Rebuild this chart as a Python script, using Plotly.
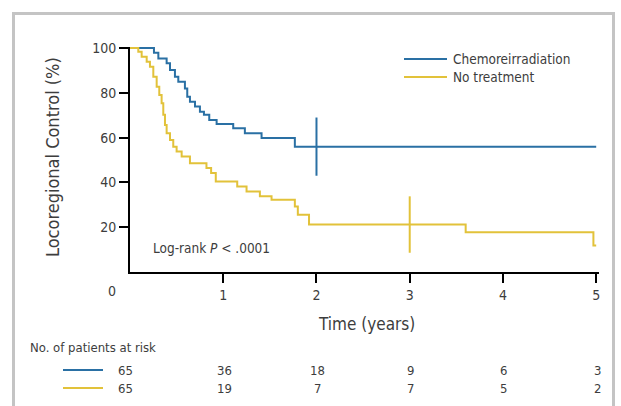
import plotly.graph_objects as go

# ---- data ----
series_names = ["Chemoreirradiation", "No treatment"]
blue_t = [0, 0.257, 0.304, 0.393, 0.429, 0.482, 0.518, 0.589, 0.614, 0.643, 0.697,
          0.750, 0.793, 0.850, 0.929, 1.107, 1.232, 1.411, 1.768, 5.0]
blue_v = [100, 97.9, 95.4, 93.2, 90.2, 87.2, 85.0, 82.0, 78.3, 76.1, 73.9,
          71.6, 70.2, 67.9, 66.1, 64.2, 62.0, 59.8, 56.0, 56.0]
yellow_t = [0, 0.089, 0.125, 0.179, 0.214, 0.25, 0.286, 0.314, 0.339, 0.357, 0.375,
            0.393, 0.429, 0.464, 0.5, 0.554, 0.643, 0.82, 0.87, 0.92, 1.15, 1.25,
            1.393, 1.518, 1.768, 1.80, 1.92, 3.6, 4.97, 5.0]
yellow_v = [100, 98.4, 96.1, 93.9, 91.7, 87.2, 82.8, 79.1, 75.4, 70.2, 65.7,
            62.0, 59.0, 56.0, 53.8, 51.6, 48.6, 46.4, 44.2, 40.4, 38.2, 36.0,
            33.8, 32.3, 29.3, 25.6, 21.2, 17.7, 11.8, 11.8]
censor_t = [2, 3]
censor_v = [56.0, 21.2]
censor_half = [13.0, 12.6]
x_ticks = [1, 2, 3, 4, 5]
y_ticks = [20, 40, 60, 80, 100]
risk_times = [0, 1, 2, 3, 4, 5]
risk_blue = [65, 36, 18, 9, 6, 3]
risk_yellow = [65, 19, 7, 7, 5, 2]
pvalue_text = "Log-rank <i>P</i> &lt; .0001"

# ---- style ----
W, H = 621, 406
L, R, T, B = 130, 22, 47, 134
PW, PH = W - L - R, H - T - B
BLUE = "#2a70a4"
YELLOW = "#e2c23a"
TXT = "#3d3d3d"
FONT = "DejaVu Sans Condensed, DejaVu Sans"


def px(x):
    return (x - L) / PW


def py(y):
    return (H - B - y) / PH


fig = go.Figure()
fig.add_trace(go.Scatter(x=blue_t, y=blue_v, mode="lines", line=dict(color=BLUE, width=2, shape="hv"),
                         name=series_names[0], showlegend=False))
fig.add_trace(go.Scatter(x=yellow_t, y=yellow_v, mode="lines", line=dict(color=YELLOW, width=2, shape="hv"),
                         name=series_names[1], showlegend=False))
for ct, cv, ch, col in zip(censor_t, censor_v, censor_half, [BLUE, YELLOW]):
    fig.add_trace(go.Scatter(x=[ct, ct], y=[cv - ch, cv + ch], mode="lines",
                             line=dict(color=col, width=2), showlegend=False, hoverinfo="skip"))

shapes = []
# outer frame
shapes.append(dict(type="rect", xref="paper", yref="paper", x0=px(13.5), x1=px(613.5), y0=py(430), y1=py(13.5),
                   line=dict(color="#c4c4c4", width=3), layer="below"))
# legend samples
for yy, col in [(59, BLUE), (77, YELLOW)]:
    shapes.append(dict(type="line", xref="paper", yref="paper", x0=px(404), x1=px(447), y0=py(yy), y1=py(yy),
                       line=dict(color=col, width=2)))
# risk-table samples
for yy, col in [(370, BLUE), (388, YELLOW)]:
    shapes.append(dict(type="line", xref="paper", yref="paper", x0=px(63), x1=px(103), y0=py(yy), y1=py(yy),
                       line=dict(color=col, width=2)))

ann = []
ann.append(dict(text=series_names[0], x=px(451), y=py(59), xref="paper", yref="paper", xanchor="left",
                yanchor="middle", showarrow=False, font=dict(family=FONT, size=13.5, color=TXT)))
ann.append(dict(text=series_names[1], x=px(451), y=py(77), xref="paper", yref="paper", xanchor="left",
                yanchor="middle", showarrow=False, font=dict(family=FONT, size=13.5, color=TXT)))
ann.append(dict(text=pvalue_text, x=px(151), y=py(248), xref="paper", yref="paper", xanchor="left",
                yanchor="middle", showarrow=False, font=dict(family=FONT, size=13.5, color=TXT)))
ann.append(dict(text="0", x=px(112), y=py(291), xref="paper", yref="paper", xanchor="center",
                yanchor="middle", showarrow=False, font=dict(family=FONT, size=14, color=TXT)))
ann.append(dict(text="Time (years)", x=px(366), y=py(324), xref="paper", yref="paper", xanchor="center",
                yanchor="middle", showarrow=False, font=dict(family=FONT, size=17, color=TXT)))
ann.append(dict(text="Locoregional Control (%)", x=px(52), y=py(157), xref="paper", yref="paper",
                xanchor="center", yanchor="middle", textangle=-90, showarrow=False,
                font=dict(family=FONT, size=18, color=TXT)))
ann.append(dict(text="No. of patients at risk", x=px(28), y=py(347), xref="paper", yref="paper",
                xanchor="left", yanchor="middle", showarrow=False, font=dict(family=FONT, size=13, color=TXT)))
for t, nb, ny in zip(risk_times, risk_blue, risk_yellow):
    shift = -5 if t == 0 else 1
    for val, yy in [(nb, 370), (ny, 388)]:
        ann.append(dict(text=str(val), x=t, y=py(yy), xref="x", yref="paper", xanchor="center",
                        yanchor="middle", xshift=shift, showarrow=False,
                        font=dict(family=FONT, size=13, color=TXT)))

fig.update_layout(
    width=W, height=H, margin=dict(l=L, r=R, t=T, b=B, autoexpand=False),
    paper_bgcolor="white", plot_bgcolor="white",
    shapes=shapes, annotations=ann, showlegend=False,
    xaxis=dict(range=[0, 5.03], tickvals=x_ticks, ticktext=[str(v) for v in x_ticks],
               showgrid=False, zeroline=False, showline=True, linecolor="black", linewidth=2,
               ticks="outside", ticklen=9, tickwidth=2, tickcolor="black",
               tickfont=dict(family=FONT, size=14, color=TXT), fixedrange=True),
    yaxis=dict(range=[0, 100.5], tickvals=y_ticks, ticktext=[str(v) for v in y_ticks],
               showgrid=False, zeroline=False, showline=True, linecolor="black", linewidth=2,
               ticks="outside", ticklen=9, tickwidth=2, tickcolor="black",
               tickfont=dict(family=FONT, size=14, color=TXT), fixedrange=True),
)
fig.write_html("out.html")
